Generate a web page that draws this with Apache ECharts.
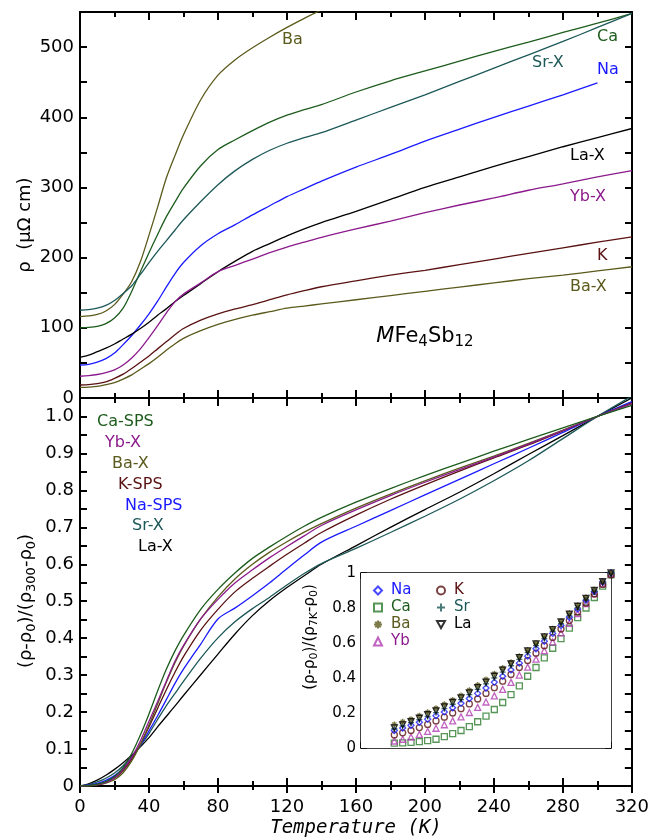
<!DOCTYPE html>
<html><head><meta charset="utf-8">
<script src="https://cdn.jsdelivr.net/npm/echarts@6/dist/echarts.min.js"></script>
<style>html,body{margin:0;padding:0;background:#fff}#c{width:652px;height:839px}</style>
</head><body><div id="c"></div>
<script>
// ---------- data ----------
const temps = [0,5,10,15,20,25,30,35,40,45,50,55,60,70,80,90,100,110,120,130,140,160,180,200,220,240,260,280,300,320];
// top panel: resistivity (µΩ cm)
const rhoBa  = [116,117,119,124,133,148,166,194,232,272,313,345,375,425,460,482,499,514,528,541,553,576];
const rhoCa  = [100,100.5,102,106,114,128,152,180,207,233,258,279,299,331,354,368,381,393,403,411,418,436,452,466,480,494,507,521,534,548];
const rhoSr  = [125,126,128,132,139,149,160,176,193,209,224,239,254,280,304,324,340,353,363,371,378,396,414,432,451,470,489,508,528,548];
const rhoNa  = [47,48,51,56,64,76,89,104,120,138,158,177,193,217,234,247,261,274,287,298,309,329,347,366,383,400,416,432,449];
const rhoLa  = [58,61,66,71,77,84,91,99,108,118,127,137,146,163,180,195,209,220,231,241,250,266,283,300,315,330,344,358,371,384];
const rhoYb  = [31,32,33.5,36,40,47,57,70,86,103,121,137,148,164,180,189,198,207,215,222,229,241,252,264,275,285,296,305,315,324];
const rhoK   = [18.5,19,20.5,23,28,34,42,51,60,70,80,90,99,111,120,127,133,140,147,153,158.5,167,175,182,190,198,206,214,222,229.5];
const rhoBaX = [15,15.5,16.5,19,22,27,33,41,49,58,68,77,85,96,105,112,118,123,128,131,134,140,146,152,158,164,170,175,181,187];
// bottom panel: (rho-rho0)/(rho300-rho0)
const nCa  = [0,0.001,0.005,0.012,0.026,0.05,0.088,0.138,0.195,0.257,0.315,0.365,0.407,0.478,0.532,0.577,0.616,0.647,0.676,0.703,0.727,0.768,0.805,0.84,0.873,0.906,0.938,0.969,1.0,1.03];
const nYb  = [0,0.001,0.004,0.01,0.022,0.045,0.078,0.122,0.175,0.228,0.283,0.337,0.38,0.452,0.505,0.55,0.585,0.618,0.648,0.677,0.705,0.747,0.786,0.822,0.856,0.89,0.925,0.962,1.0,1.035];
const nBaX = [0,0,0.003,0.008,0.017,0.036,0.068,0.112,0.165,0.222,0.28,0.333,0.378,0.452,0.512,0.561,0.6,0.633,0.661,0.687,0.71,0.752,0.79,0.826,0.86,0.893,0.927,0.963,1.0,1.035];
const nK   = [0,0.001,0.004,0.01,0.021,0.042,0.073,0.113,0.16,0.21,0.26,0.307,0.35,0.422,0.478,0.526,0.562,0.595,0.627,0.657,0.686,0.733,0.776,0.815,0.852,0.888,0.923,0.961,1.0,1.037];
const nNa  = [0,0.002,0.007,0.015,0.028,0.048,0.076,0.11,0.149,0.19,0.233,0.277,0.316,0.384,0.452,0.482,0.515,0.55,0.588,0.625,0.66,0.703,0.745,0.788,0.83,0.872,0.914,0.957,1.0,1.04];
const nSr  = [0,0.004,0.011,0.021,0.035,0.055,0.08,0.109,0.142,0.18,0.217,0.25,0.283,0.346,0.401,0.445,0.48,0.511,0.544,0.575,0.602,0.643,0.686,0.73,0.776,0.826,0.88,0.94,1.0,1.055];
const nLa  = [0,0.006,0.016,0.029,0.045,0.063,0.083,0.106,0.131,0.16,0.188,0.216,0.245,0.301,0.357,0.412,0.461,0.502,0.537,0.569,0.6,0.65,0.7,0.748,0.795,0.845,0.897,0.948,1.0,1.05];
// inset
const insetT = [170,175,180,185,190,195,200,205,210,215,220,225,230,235,240,245,250,255,260,265,270,275,280,285,290,295,300];
const iNa = [0.1,0.114,0.13,0.147,0.165,0.185,0.206,0.23,0.256,0.283,0.312,0.343,0.376,0.41,0.446,0.485,0.525,0.567,0.61,0.655,0.7,0.747,0.795,0.845,0.895,0.948,1.0];
const iCa = [0.028,0.029,0.032,0.036,0.042,0.05,0.065,0.082,0.1,0.122,0.15,0.182,0.22,0.26,0.305,0.355,0.41,0.46,0.515,0.57,0.625,0.685,0.745,0.8,0.86,0.925,0.99];
const iBa = [0.135,0.15,0.165,0.185,0.205,0.227,0.25,0.275,0.3,0.33,0.36,0.392,0.425,0.457,0.49,0.525,0.56,0.6,0.64,0.682,0.725,0.77,0.815,0.86,0.905,0.952,1.0];
const iYb = [0.04,0.05,0.063,0.078,0.095,0.113,0.133,0.155,0.178,0.203,0.232,0.263,0.298,0.335,0.375,0.417,0.462,0.508,0.556,0.606,0.658,0.712,0.768,0.825,0.882,0.94,0.995];
const iK  = [0.075,0.087,0.1,0.117,0.135,0.155,0.176,0.2,0.225,0.252,0.28,0.312,0.345,0.382,0.42,0.46,0.5,0.542,0.585,0.632,0.68,0.728,0.777,0.828,0.88,0.935,0.99];
const iSr = [0.11,0.127,0.145,0.162,0.18,0.202,0.225,0.25,0.276,0.305,0.335,0.367,0.4,0.434,0.47,0.507,0.545,0.585,0.625,0.667,0.71,0.755,0.8,0.847,0.895,0.945,0.995];
const iLa = [0.115,0.132,0.15,0.17,0.19,0.212,0.235,0.26,0.286,0.315,0.345,0.377,0.41,0.445,0.48,0.517,0.555,0.595,0.635,0.677,0.72,0.765,0.81,0.855,0.9,0.95,1.0];

// ---------- styles ----------
const C = {Ba:'#5b5a1c', Ca:'#1d5c1d', Sr:'#1d5858', Na:'#1a1aff', La:'#000000', Yb:'#8c1a8c', K:'#5a1212'};
const FONT = 'DejaVu Sans';
const pair = (xs, ys) => ys.map((v, i) => [xs[i], v]);

function xAx(grid, pos, opt) {
  return Object.assign({
    type:'value', gridIndex:grid, position:pos, min:0, max:320, interval:40,
    axisLine:{show:true, onZero:false, lineStyle:{color:'#000', width:2}},
    axisTick:{show:true, inside:true, length:8, lineStyle:{color:'#000', width:2}},
    minorTick:{show:true, splitNumber:2, length:5, lineStyle:{color:'#000', width:2}},
    axisLabel:{show:false}, splitLine:{show:false}
  }, opt || {});
}
function yAx(grid, pos, opt) {
  return Object.assign({
    type:'value', gridIndex:grid, position:pos,
    axisLine:{show:true, onZero:false, lineStyle:{color:'#000', width:2}},
    axisTick:{show:true, inside:true, length:7, lineStyle:{color:'#000', width:2}},
    axisLabel:{show:false}, splitLine:{show:false}
  }, opt || {});
}
const yLab = (fmt) => ({show:true, fontFamily:FONT, fontSize:18, color:'#000', margin:6, formatter:fmt, showMaxLabel:true});

const topFmt = v => (Math.round(v) % 100 === 0 ? String(Math.round(v)) : '');
const botFmt = v => { const k = Math.round(v * 100); if (k % 10 !== 0) return ''; return k === 0 ? '0' : (k / 100).toFixed(1); };
const insetLine = {show:true, onZero:false, lineStyle:{color:'#000', width:1.5}};
const insetTick = {show:true, inside:true, length:6, lineStyle:{color:'#000', width:1.5}};

const xAxis = [
  xAx(0, 'bottom'),
  xAx(0, 'top'),
  xAx(1, 'bottom', {axisLabel:{show:true, fontFamily:FONT, fontSize:18, color:'#000', margin:12}}),
  xAx(1, 'top'),
  xAx(2, 'bottom', {axisLine:{show:false}, axisTick:{show:true, inside:false, length:7, lineStyle:{color:'#000', width:2}},
                    minorTick:{show:true, splitNumber:2, length:4, lineStyle:{color:'#000', width:2}}}),
  xAx(3, 'bottom', {min:150, max:300, interval:25, minorTick:{show:false}, axisTick:insetTick, axisLine:insetLine}),
  xAx(3, 'top', {min:150, max:300, interval:25, minorTick:{show:false}, axisTick:insetTick, axisLine:insetLine})
];
const yAxis = [
  yAx(0, 'left', {min:0, max:550, interval:50, axisLabel:yLab(topFmt)}),
  yAx(0, 'right', {min:0, max:550, interval:50}),
  yAx(1, 'left', {min:0, max:1.05, interval:0.05, axisLabel:yLab(botFmt)}),
  yAx(1, 'right', {min:0, max:1.05, interval:0.05}),
  yAx(2, 'left', {min:0, max:1, show:false}),
  yAx(3, 'left', {min:0, max:1, interval:0.2, axisLine:insetLine, axisTick:insetTick,
      axisLabel:{show:true, fontFamily:FONT, fontSize:15, color:'#000', margin:5, formatter: v => (v===0||v===1) ? String(v) : v.toFixed(1)}}),
  yAx(3, 'right', {min:0, max:1, interval:0.2, axisLine:insetLine, axisTick:insetTick})
];

function line(name, xi, yi, data, color) {
  return {name, type:'line', xAxisIndex:xi, yAxisIndex:yi, data, symbol:'none', smooth:0.3,
          lineStyle:{color, width:1.3}, itemStyle:{color}, silent:true, clip:true, z:3};
}
const symAst = 'path://M5,0V10M0,5H10M1.6,1.6L8.4,8.4M8.4,1.6L1.6,8.4';
const symPlus = 'path://M5,0V10M0,5H10';
const symDown = 'path://M0,0H10L5,9Z';
function scat(name, data, color, symbol) {
  return {name, type:'scatter', xAxisIndex:5, yAxisIndex:5, data, symbol, symbolSize:6,
          itemStyle:{color:'rgba(255,255,255,0)', borderColor:color, borderWidth:1.3}, silent:true, z:5};
}

const series = [
  line('Ba ρ', 0, 0, pair(temps, rhoBa), C.Ba),
  line('Ca ρ', 0, 0, pair(temps, rhoCa), C.Ca),
  line('Sr-X ρ', 0, 0, pair(temps, rhoSr), C.Sr),
  line('Na ρ', 0, 0, pair(temps, rhoNa), C.Na),
  line('La-X ρ', 0, 0, pair(temps, rhoLa), C.La),
  line('Yb-X ρ', 0, 0, pair(temps, rhoYb), C.Yb),
  line('K ρ', 0, 0, pair(temps, rhoK), C.K),
  line('Ba-X ρ', 0, 0, pair(temps, rhoBaX), C.Ba),
  line('La-X n', 2, 2, pair(temps, nLa), C.La),
  line('Sr-X n', 2, 2, pair(temps, nSr), C.Sr),
  line('Na-SPS n', 2, 2, pair(temps, nNa), C.Na),
  line('K-SPS n', 2, 2, pair(temps, nK), C.K),
  line('Ba-X n', 2, 2, pair(temps, nBaX), C.Ba),
  line('Yb-X n', 2, 2, pair(temps, nYb), C.Yb),
  line('Ca-SPS n', 2, 2, pair(temps, nCa), C.Ca),
  scat('Ca', pair(insetT, iCa), '#2a7a2a', 'rect'),
  scat('Yb', pair(insetT, iYb), '#b03cb0', 'triangle'),
  scat('K', pair(insetT, iK), C.K, 'circle'),
  scat('Na', pair(insetT, iNa), C.Na, 'diamond'),
  scat('Sr', pair(insetT, iSr), C.Sr, symPlus),
  scat('Ba', pair(insetT, iBa), C.Ba, symAst),
  scat('La', pair(insetT, iLa), C.La, symDown)
];

function txt(text, x, y, color, size, extra) {
  return Object.assign({type:'text', x, y, z:10, silent:true,
    style:Object.assign({text, fill:color, font: size + 'px "' + FONT + '"', fontFamily:FONT, fontSize:size,
      textAlign:'left', textVerticalAlign:'middle', align:'left', verticalAlign:'middle'}, (extra && extra.style) || {})},
    (extra && extra.el) || {});
}
const subRich = (big, small, lh) => ({
  n:{fontFamily:FONT, fontSize:big, lineHeight:lh, verticalAlign:'middle', fill:'#000', color:'#000'},
  s:{fontFamily:FONT, fontSize:small, lineHeight:small, verticalAlign:'bottom', fill:'#000', color:'#000'},
  i:{fontFamily:FONT, fontSize:big, fontStyle:'italic', lineHeight:lh, verticalAlign:'middle', fill:'#000', color:'#000'}
});

const graphic = [
  txt('Ba', 282, 40, C.Ba, 16),
  txt('Ca', 597, 37, C.Ca, 16),
  txt('Sr-X', 532, 63, C.Sr, 16),
  txt('Na', 597, 70, C.Na, 16),
  txt('La-X', 570, 156, C.La, 16),
  txt('Yb-X', 570, 197, C.Yb, 16),
  txt('K', 597, 256, C.K, 16),
  txt('Ba-X', 570, 287, C.Ba, 16),
  txt('Ca-SPS', 97, 422, C.Ca, 16),
  txt('Yb-X', 105, 443, C.Yb, 16),
  txt('Ba-X', 112, 464, C.Ba, 16),
  txt('K-SPS', 118, 485, C.K, 16),
  txt('Na-SPS', 125, 506, C.Na, 16),
  txt('Sr-X', 132, 526, C.Sr, 16),
  txt('La-X', 138, 547, C.La, 16),
  txt('{i|M}{n|Fe}{s|4}{n|Sb}{s|12}', 425, 337, '#000', 21, {style:{textAlign:'center', align:'center', rich:subRich(21, 15, 26)}}),
  txt('ρ  (μΩ cm)', 25, 225, '#000', 18, {style:{textAlign:'center', align:'center'}, el:{rotation:Math.PI/2}}),
  txt('{n|(ρ-ρ}{s|0}{n|)/(ρ}{s|300}{n|-ρ}{s|0}{n|)}', 26, 601, '#000', 18, {style:{textAlign:'center', align:'center', rich:subRich(18, 13, 24)}, el:{rotation:Math.PI/2}}),
  txt('{n|(ρ-ρ}{s|0}{n|)/(ρ}{s|7K}{n|-ρ}{s|0}{n|)}', 310, 637, '#000', 15, {style:{textAlign:'center', align:'center', rich:subRich(15, 11, 20)}, el:{rotation:Math.PI/2}}),
  {type:'text', x:356, y:828, z:10, silent:true, style:{text:'Temperature (K)', fill:'#000',
    font:'italic 19px "DejaVu Sans Mono"', textAlign:'center', textVerticalAlign:'middle', align:'center', verticalAlign:'middle'}}
];

const legendBase = {orient:'vertical', itemWidth:8, itemHeight:8, itemGap:2, padding:0,
  textStyle:{fontFamily:FONT, fontSize:15, lineHeight:14, padding:[0,0,0,4]}, selectedMode:false};
const legend = [
  Object.assign({}, legendBase, {left:373, top:583, data:[
    {name:'Na', textStyle:{color:C.Na}}, {name:'Ca', textStyle:{color:C.Ca}},
    {name:'Ba', textStyle:{color:C.Ba}}, {name:'Yb', textStyle:{color:C.Yb}}]}),
  Object.assign({}, legendBase, {left:436, top:583, data:[
    {name:'K', textStyle:{color:C.K}}, {name:'Sr', textStyle:{color:C.Sr}},
    {name:'La', textStyle:{color:C.La}}]})
];

const chart = echarts.init(document.getElementById('c'), null, {renderer:'canvas'});
chart.setOption({
  animation:false,
  backgroundColor:'#fff',
  grid:[
    {left:80, top:12, width:552, height:386},
    {left:80, top:398, width:552, height:388},
    {left:80, top:398, width:552, height:388},
    {left:361, top:573, width:250, height:175, show:true, backgroundColor:'#fff', borderWidth:0, z:4}
  ],
  xAxis, yAxis, series, graphic, legend
});
</script></body></html>
